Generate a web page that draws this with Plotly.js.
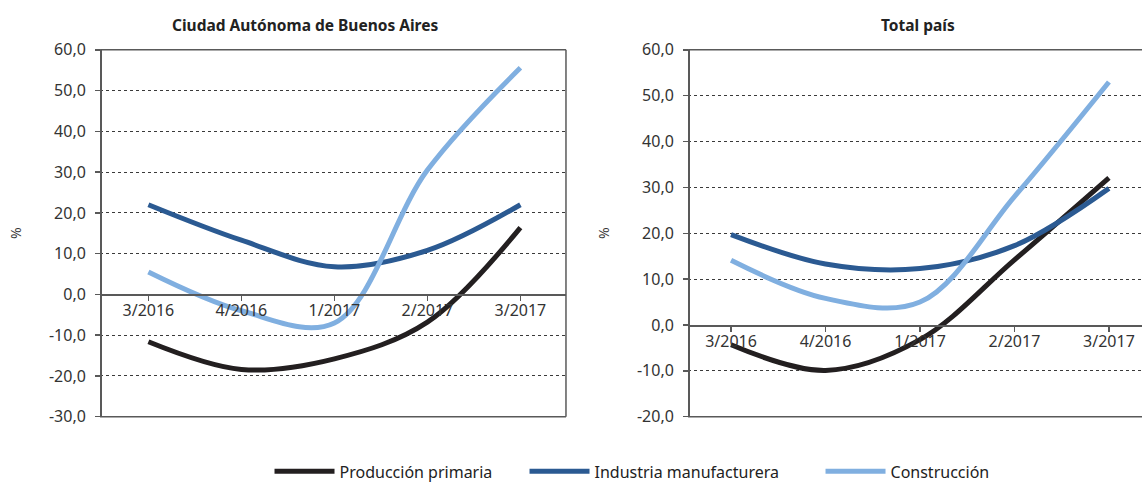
<!DOCTYPE html>
<html>
<head>
<meta charset="utf-8">
<script src="https://cdn.plot.ly/plotly-3.0.1.min.js"></script>
<style>
  html, body { margin: 0; padding: 0; background: #fff; }
  #chart { width: 1142px; height: 484px; }
</style>
</head>
<body>
<div id="chart"></div>
<script>
// ---- Data ----
var categories = ['3/2016', '4/2016', '1/2017', '2/2017', '3/2017'];
var seriesNames = ['Producción primaria', 'Industria manufacturera', 'Construcción'];

var cabaPrimaria     = [-11.6, -18.4, -15.8, -6.8, 16.4];
var cabaIndustria    = [22.0, 13.3, 6.8, 10.8, 22.0];
var cabaConstruccion = [5.5, -4.0, -7.0, 30.5, 55.6];

var paisPrimaria     = [-4.3, -9.9, -3.2, 14.2, 32.1];
var paisIndustria    = [19.7, 13.3, 12.3, 17.3, 29.8];
var paisConstruccion = [14.1, 5.8, 5.0, 28.0, 53.0];

var cabaTickVals = [-30, -20, -10, 0, 10, 20, 30, 40, 50, 60];
var cabaTickText = ['-30,0', '-20,0', '-10,0', '0,0', '10,0', '20,0', '30,0', '40,0', '50,0', '60,0'];
var paisTickVals = [-20, -10, 0, 10, 20, 30, 40, 50, 60];
var paisTickText = ['-20,0', '-10,0', '0,0', '10,0', '20,0', '30,0', '40,0', '50,0', '60,0'];

var titleCaba = 'Ciudad Autónoma de Buenos Aires';
var titlePais = 'Total país';
var yTitle = '%';

// ---- Styles ----
var colors = ['#231f20', '#2b5a92', '#80afe0'];
var FONT = 'Noto Sans, Open Sans, sans-serif';
var axisColor = '#595959';
var textColor = '#333333';
var legendIds = ['legend', 'legend2', 'legend3'];
var legendX = [0.236, 0.4593, 0.7185];

function mkTrace(y, i, xa, ya, show) {
  return {
    x: categories, y: y, type: 'scatter', mode: 'lines',
    name: seriesNames[i], legendgroup: 'g' + i, showlegend: show, legend: legendIds[i],
    xaxis: xa, yaxis: ya,
    line: { color: colors[i], width: 5, shape: 'spline', smoothing: 1 },
    hoverinfo: 'skip'
  };
}

var data = [
  mkTrace(cabaPrimaria, 0, 'x', 'y', true),
  mkTrace(cabaIndustria, 1, 'x', 'y', true),
  mkTrace(cabaConstruccion, 2, 'x', 'y', true),
  mkTrace(paisPrimaria, 0, 'x2', 'y2', false),
  mkTrace(paisIndustria, 1, 'x2', 'y2', false),
  mkTrace(paisConstruccion, 2, 'x2', 'y2', false)
];

var yDom = [0.139, 0.897];
function zeroPos(lo, hi) { return yDom[0] + (0 - lo) / (hi - lo) * (yDom[1] - yDom[0]); }

var xCommon = {
  type: 'category', anchor: 'free', showgrid: false, zeroline: false,
  showline: true, linecolor: axisColor, linewidth: 1.5,
  ticks: 'outside', ticklen: 5, tickcolor: axisColor, tickwidth: 1.5,
  ticklabelstandoff: -4,
  tickfont: { family: FONT, size: 16, color: textColor },
  fixedrange: true
};
function yCommon(vals, text, lo, hi) {
  return {
    range: [lo, hi], tickvals: vals, ticktext: text,
    showgrid: true, gridcolor: '#3a3a3a', griddash: 'dot', gridwidth: 1,
    zeroline: false, showline: true, linecolor: axisColor, linewidth: 1.5,
    ticks: 'outside', ticklen: 5, tickcolor: axisColor, tickwidth: 1.5,
    ticklabelstandoff: 6,
    tickfont: { family: FONT, size: 16, color: textColor },
    title: { text: yTitle, font: { family: FONT, size: 14, color: textColor }, standoff: 22 },
    domain: yDom, fixedrange: true
  };
}

function border(xr, yr, x0, y0, x1, y1) {
  return { type: 'line', xref: xr, yref: yr, x0: x0, y0: y0, x1: x1, y1: y1,
           line: { color: axisColor, width: 1.5 }, layer: 'above' };
}

function mkLegend(i) {
  return {
    orientation: 'h', x: legendX[i], y: 0.026, xanchor: 'left', yanchor: 'middle',
    font: { family: FONT, size: 16, color: '#222' },
    itemwidth: 60, bgcolor: 'rgba(0,0,0,0)'
  };
}

var layout = {
  width: 1142, height: 484,
  margin: { l: 0, r: 0, t: 0, b: 0, autoexpand: false },
  paper_bgcolor: '#ffffff', plot_bgcolor: 'rgba(0,0,0,0)',
  font: { family: FONT, color: textColor },
  separators: ',.',
  xaxis: Object.assign({}, xCommon, { domain: [0.0876, 0.4956], range: [-0.52, 4.49], position: zeroPos(-30, 60) }),
  yaxis: Object.assign({}, yCommon(cabaTickVals, cabaTickText, -30, 60), { anchor: 'free', position: 0.0876 }),
  xaxis2: Object.assign({}, xCommon, { domain: [0.6025, 1.0], range: [-0.455, 4.35], position: zeroPos(-20, 60) }),
  yaxis2: Object.assign({}, yCommon(paisTickVals, paisTickText, -20, 60), { anchor: 'free', position: 0.6025 }),
  shapes: [
    border('x domain', 'y domain', 0, 1, 1, 1),
    border('x domain', 'y domain', 0, 0, 1, 0),
    border('x domain', 'y domain', 1, 0, 1, 1),
    border('x2 domain', 'y2 domain', 0, 1, 1, 1),
    border('x2 domain', 'y2 domain', 0, 0, 1, 0)
  ],
  annotations: [
    { text: '<b>' + titleCaba + '</b>', xref: 'paper', yref: 'paper', x: 0.267, y: 0.948,
      xanchor: 'center', yanchor: 'middle', showarrow: false,
      font: { family: FONT, size: 15.5, color: '#222' } },
    { text: '<b>' + titlePais + '</b>', xref: 'paper', yref: 'paper', x: 0.804, y: 0.948,
      xanchor: 'center', yanchor: 'middle', showarrow: false,
      font: { family: FONT, size: 15.5, color: '#222' } }
  ],
  showlegend: true,
  legend: mkLegend(0),
  legend2: mkLegend(1),
  legend3: mkLegend(2)
};

Plotly.newPlot('chart', data, layout, { staticPlot: true, displayModeBar: false });
</script>
</body>
</html>
